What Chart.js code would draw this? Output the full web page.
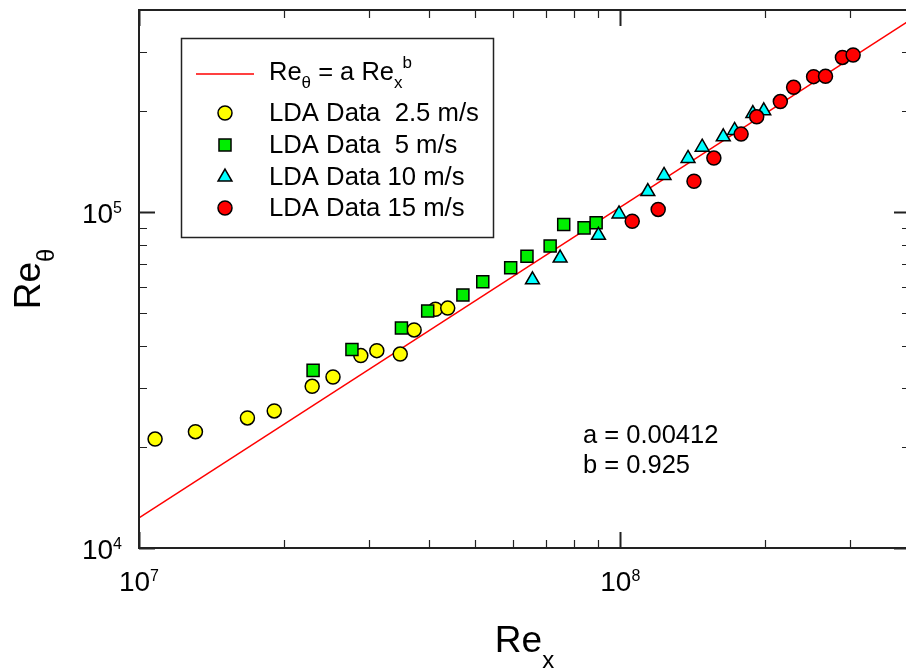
<!DOCTYPE html>
<html>
<head>
<meta charset="utf-8">
<script src="https://cdn.jsdelivr.net/npm/chart.js@4"></script>
<style>
html, body { margin: 0; padding: 0; background: #fff; overflow: hidden; }
#wrap { width: 920px; height: 669px; }
</style>
</head>
<body>
<div id="wrap"><canvas id="chart" width="920" height="669"></canvas></div>
<script>
// LDA data, Re_x vs Re_theta, one pair of arrays per free-stream speed
let rex25 = [1.08e7, 1.31e7, 1.68e7, 1.91e7, 2.29e7, 2.53e7, 2.89e7, 3.12e7, 3.49e7, 3.73e7, 4.13e7, 4.38e7];
let reth25 = [21100, 22200, 24400, 25600, 30300, 32300, 37400, 38700, 37800, 44600, 51400, 51800];

let rex5 = [2.30e7, 2.77e7, 3.51e7, 3.98e7, 4.71e7, 5.18e7, 5.92e7, 6.40e7, 7.15e7, 7.63e7, 8.41e7, 8.91e7];
let reth5 = [33800, 39000, 45200, 50800, 56700, 62100, 68300, 73900, 79300, 91900, 89800, 93000];

let rex10 = [6.57e7, 7.50e7, 9.01e7, 9.94e7, 1.141e8, 1.233e8, 1.383e8, 1.480e8, 1.637e8, 1.728e8, 1.886e8, 1.987e8];
let reth10 = [62900, 73000, 85300, 98800, 115200, 128700, 144600, 156200, 167700, 175100, 196600, 200300];

let rex15 = [1.059e8, 1.199e8, 1.423e8, 1.565e8, 1.783e8, 1.921e8, 2.151e8, 2.292e8, 2.522e8, 2.670e8, 2.895e8, 3.047e8];
let reth15 = [94000, 101900, 123600, 144900, 170800, 192300, 213500, 235400, 253300, 253800, 288900, 293800];

// fit line Re_theta = a Re_x^b, end points
let fitX = [1e7, 4e8];
let fitY = [12300, 373000];

let legendLabels = ['LDA Data  2.5 m/s', 'LDA Data  5 m/s', 'LDA Data 10 m/s', 'LDA Data 15 m/s'];
let fitParams = ['a = 0.00412', 'b = 0.925'];

let xTicks = [1e7, 2e7, 3e7, 4e7, 5e7, 6e7, 7e7, 8e7, 9e7, 1e8, 2e8, 3e8, 4e8];
let yTicks = [1e4, 2e4, 3e4, 4e4, 5e4, 6e4, 7e4, 8e4, 9e4, 1e5, 2e5, 3e5, 4e5];
let xMajor = [1e7, 1e8];
let yMajor = [1e4, 1e5];
let xLabelExp = ['7', '8'];
let yLabelExp = ['4', '5'];

const FONT = '"Liberation Sans", Arial, sans-serif';

function toPoints(xs, ys) {
    return xs.map((v, i) => ({ x: v, y: ys[i] }));
}

function marker(ctx, style, x, y) {
    ctx.save();
    ctx.fillStyle = style.color;
    ctx.strokeStyle = '#000';
    ctx.lineWidth = 1.5;
    Chart.helpers.drawPoint(ctx, {
        pointStyle: style.shape,
        radius: style.radius,
        rotation: 0,
        borderWidth: 1.5
    }, x, y);
    ctx.restore();
}

// "10" with a superscript exponent
function powerLabel(ctx, exp, left, baseline) {
    ctx.font = '28px ' + FONT;
    ctx.fillText('10', left, baseline);
    let w = ctx.measureText('10').width;
    ctx.font = '16px ' + FONT;
    ctx.fillText(exp, left + w, baseline - 10);
}

function powerWidth(ctx, exp) {
    ctx.font = '28px ' + FONT;
    let w = ctx.measureText('10').width;
    ctx.font = '16px ' + FONT;
    return w + ctx.measureText(exp).width;
}

let styles = [
    { color: '#ffff00', shape: 'circle', radius: 7 },
    { color: '#00ee00', shape: 'rect', radius: 8.5 },
    { color: '#00ffff', shape: 'triangle', radius: 8 },
    { color: '#ff0000', shape: 'circle', radius: 7 }
];

const decorations = {
    id: 'decorations',
    afterDatasetsDraw(chart) {
        let ctx = chart.ctx;
        let a = chart.chartArea;
        let xs = chart.scales.x;
        let ys = chart.scales.y;
        ctx.save();
        ctx.strokeStyle = '#222';

        // ticks, inward on all four sides
        xTicks.forEach(v => {
            let px = Math.round(xs.getPixelForValue(v)) + 0.5;
            let major = xMajor.includes(v);
            let len = major ? 16 : 8;
            ctx.lineWidth = major ? 2 : 1.2;
            ctx.beginPath();
            ctx.moveTo(px, a.bottom);
            ctx.lineTo(px, a.bottom - len);
            ctx.moveTo(px, a.top);
            ctx.lineTo(px, a.top + len);
            ctx.stroke();
        });
        yTicks.forEach(v => {
            let py = Math.round(ys.getPixelForValue(v)) + 0.5;
            let major = yMajor.includes(v);
            let len = major ? 16 : 8;
            ctx.lineWidth = major ? 2 : 1.2;
            ctx.beginPath();
            ctx.moveTo(a.left, py);
            ctx.lineTo(a.left + len, py);
            ctx.moveTo(a.right, py);
            ctx.lineTo(a.right - len, py);
            ctx.stroke();
        });

        // frame
        ctx.lineWidth = 2;
        ctx.strokeRect(a.left, a.top, a.right - a.left, a.bottom - a.top);

        // tick labels
        ctx.fillStyle = '#000';
        ctx.textBaseline = 'alphabetic';
        ctx.textAlign = 'left';
        xMajor.forEach((v, i) => {
            let px = xs.getPixelForValue(v);
            let w = powerWidth(ctx, xLabelExp[i]);
            powerLabel(ctx, xLabelExp[i], px - w / 2, a.bottom + 42.5);
        });
        yMajor.forEach((v, i) => {
            let py = ys.getPixelForValue(v);
            let w = powerWidth(ctx, yLabelExp[i]);
            powerLabel(ctx, yLabelExp[i], a.left - 17 - w, py + 10.5);
        });

        // x axis title
        ctx.font = '37px ' + FONT;
        let wRe = ctx.measureText('Re').width;
        ctx.font = '24px ' + FONT;
        let wx = ctx.measureText('x').width;
        let cx = (a.left + a.right) / 2 - (wRe + wx) / 2;
        ctx.font = '37px ' + FONT;
        ctx.fillText('Re', cx, 652);
        ctx.font = '24px ' + FONT;
        ctx.fillText('x', cx + wRe, 668);

        // y axis title, rotated
        ctx.save();
        ctx.translate(40, (a.top + a.bottom) / 2);
        ctx.rotate(-Math.PI / 2);
        ctx.font = '24px ' + FONT;
        let wt = ctx.measureText('\u03b8').width;
        let sx = -(wRe + wt) / 2;
        ctx.font = '37px ' + FONT;
        ctx.fillText('Re', sx, 0);
        ctx.font = '24px ' + FONT;
        ctx.fillText('\u03b8', sx + wRe, 14);
        ctx.restore();

        // legend box
        ctx.fillStyle = '#fff';
        ctx.fillRect(181, 38, 313, 200);
        ctx.lineWidth = 1.5;
        ctx.strokeStyle = '#222';
        ctx.strokeRect(181.5, 38.5, 312, 199);
        ctx.strokeStyle = '#ff0000';
        ctx.lineWidth = 1.5;
        ctx.beginPath();
        ctx.moveTo(196, 74);
        ctx.lineTo(254, 74);
        ctx.stroke();

        ctx.fillStyle = '#000';
        let tx = 269;
        ctx.font = '25.5px ' + FONT;
        ctx.fillText('Re', tx, 80);
        tx += ctx.measureText('Re').width;
        ctx.font = '17px ' + FONT;
        ctx.fillText('\u03b8', tx, 88);
        tx += ctx.measureText('\u03b8').width;
        ctx.font = '25.5px ' + FONT;
        ctx.fillText(' = a Re', tx, 80);
        tx += ctx.measureText(' = a Re').width;
        ctx.font = '17px ' + FONT;
        ctx.fillText('x', tx, 88);
        tx += ctx.measureText('x').width;
        ctx.fillText('b', tx, 68);

        let rowY = [113, 145, 177, 208];
        legendLabels.forEach((t, i) => {
            marker(ctx, styles[i], 225, rowY[i]);
            ctx.fillStyle = '#000';
            ctx.font = '25.7px ' + FONT;
            ctx.fillText(t, 269, rowY[i] + 8);
        });

        // fit parameters
        ctx.font = '25.5px ' + FONT;
        ctx.fillText(fitParams[0], 583, 443);
        ctx.fillText(fitParams[1], 583, 473);

        ctx.restore();
    }
};

function pointSet(label, xs, ys, st, order) {
    return {
        label: label,
        data: toPoints(xs, ys),
        showLine: false,
        pointStyle: st.shape,
        pointRadius: st.radius,
        pointBackgroundColor: st.color,
        pointBorderColor: '#000',
        pointBorderWidth: 1.5,
        order: order
    };
}

let ctx = document.getElementById('chart').getContext('2d');
new Chart(ctx, {
    type: 'scatter',
    data: {
        datasets: [
            {
                label: 'fit',
                data: toPoints(fitX, fitY),
                showLine: true,
                borderColor: '#ff0000',
                borderWidth: 1.5,
                pointRadius: 0,
                order: 5
            },
            pointSet(legendLabels[0], rex25, reth25, styles[0], 4),
            pointSet(legendLabels[1], rex5, reth5, styles[1], 3),
            pointSet(legendLabels[2], rex10, reth10, styles[2], 2),
            pointSet(legendLabels[3], rex15, reth15, styles[3], 1)
        ]
    },
    options: {
        responsive: false,
        animation: false,
        devicePixelRatio: 1,
        layout: { padding: { left: 139, top: 7, right: 7, bottom: 121 } },
        scales: {
            x: { type: 'logarithmic', min: 1e7, max: 4e8, display: false },
            y: { type: 'logarithmic', min: 1e4, max: 4e5, display: false }
        },
        plugins: {
            legend: { display: false },
            tooltip: { enabled: false }
        }
    },
    plugins: [decorations]
});
</script>
</body>
</html>
